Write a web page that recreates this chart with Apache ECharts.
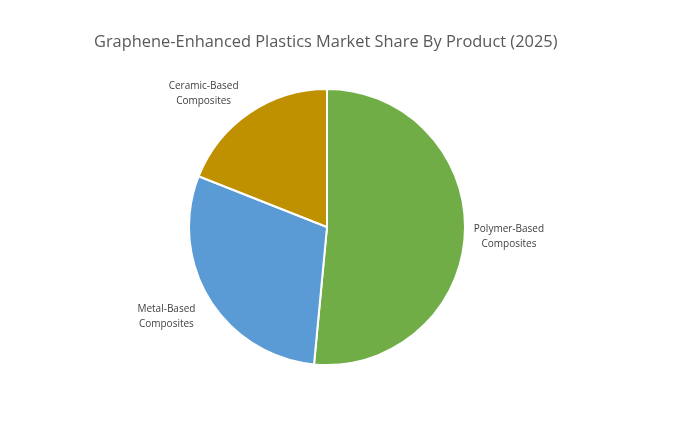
<!DOCTYPE html>
<html><head><meta charset="utf-8">
<script src="https://cdn.jsdelivr.net/npm/echarts@6/dist/echarts.min.js"></script>
<style>html,body{margin:0;padding:0;background:#fff}#c{width:683px;height:444px}</style>
</head><body><div id="c"></div>
<script>
const titleText = 'Graphene-Enhanced Plastics Market Share By Product (2025)';
const categories = ['Polymer-Based\nComposites', 'Metal-Based\nComposites', 'Ceramic-Based\nComposites'];
const shares = [51.5, 29.5, 19];
const colors = ['#70AD47', '#5B9BD5', '#BF9000'];
const labelNudge = [[-10, 2], [3, 10], [2, -8]];

const chart = echarts.init(document.getElementById('c'), null, {renderer: 'canvas'});
chart.setOption({
  animation: false,
  backgroundColor: '#fff',
  title: {
    text: titleText, left: 89, top: 29,
    textStyle: {fontFamily: 'Open Sans', fontSize: 16.4, fontWeight: 'normal', color: '#595959'}
  },
  series: [{
    type: 'pie',
    center: [327, 227],
    radius: 138,
    startAngle: 90,
    clockwise: true,
    itemStyle: {borderColor: '#fff', borderWidth: 2},
    label: {
      show: true, position: 'outside',
      fontFamily: 'Open Sans', fontSize: 10, color: '#404040', lineHeight: 15
    },
    labelLine: {show: false, length: 14, length2: 0},
    labelLayout: function (p) {
      const r = p.labelRect, n = labelNudge[p.dataIndex];
      return {x: r.x + r.width / 2 + n[0], y: r.y + r.height / 2 + n[1], align: 'center', verticalAlign: 'middle'};
    },
    data: categories.map((c, i) => ({name: c, value: shares[i], itemStyle: {color: colors[i]}}))
  }]
});
</script></body></html>
